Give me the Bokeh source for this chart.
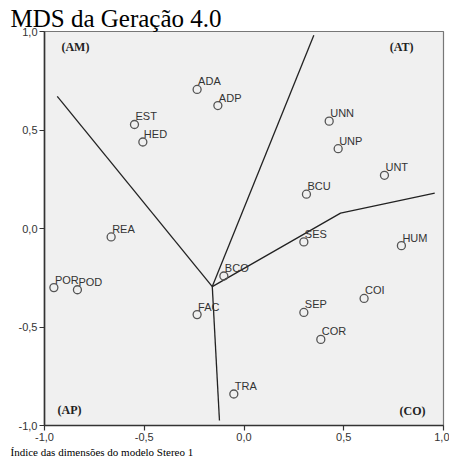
from bokeh.plotting import figure
from bokeh.models import ColumnDataSource, Label, Title, FixedTicker, CustomJSTickFormatter, Range1d
from bokeh.core.properties import value
from bokeh.embed import file_html
from bokeh.resources import INLINE

# ---- data ----
names = ["ADA", "ADP", "EST", "HED", "UNN", "UNP", "UNT", "BCU", "REA", "SES", "HUM",
         "BCO", "POR", "POD", "COI", "FAC", "SEP", "COR", "TRA"]
dim1 = [-0.235, -0.131, -0.549, -0.507, 0.427, 0.472, 0.704, 0.313, -0.666, 0.300, 0.789,
        -0.101, -0.953, -0.835, 0.602, -0.235, 0.300, 0.385, -0.051]
dim2 = [0.706, 0.624, 0.528, 0.439, 0.545, 0.405, 0.270, 0.174, -0.043, -0.068, -0.087,
        -0.241, -0.300, -0.311, -0.355, -0.437, -0.426, -0.563, -0.840]

# region boundary lines (from the centre outward)
line_xs = [[-0.159, -0.936], [-0.159, 0.350], [-0.159, 0.484, 0.956], [-0.159, -0.123]]
line_ys = [[-0.295, 0.671], [-0.295, 0.981], [-0.295, 0.078, 0.179], [-0.295, -0.975]]

ticks = [-1.0, -0.5, 0.0, 0.5, 1.0]
region_labels = ["(AM)", "(AT)", "(AP)", "(CO)"]
title_text = "MDS da Geração 4.0"
caption_text = "Índice das dimensões do modelo Stereo 1"

p = figure(width=449, height=457, x_range=Range1d(-1, 1), y_range=Range1d(-1, 1),
           min_border_left=44, min_border_right=6, min_border_top=31, min_border_bottom=30,
           output_backend="svg", toolbar_location=None, title=title_text)

p.title.text_font = "Liberation Serif"
p.title.text_font_size = "25px"
p.title.text_font_style = "normal"
p.title.text_color = "black"
p.title.align = "left"
p.title.offset = -34
p.title.standoff = 0

cap = Title(text=caption_text, align="left", offset=-34, standoff=0,
            text_font="Liberation Serif", text_font_size="11px",
            text_font_style="normal", text_color="black")
p.add_layout(cap, "below")

p.background_fill_color = "#f0f0f0"
p.border_fill_color = "white"
p.outline_line_color = "#777777"
p.outline_line_width = 1.2
p.grid.visible = False

fmt = CustomJSTickFormatter(code="return tick.toFixed(1).replace('.', ',');")
for ax in (p.xaxis, p.yaxis):
    ax.ticker = FixedTicker(ticks=ticks, minor_ticks=[])
    ax.formatter = fmt
    ax.axis_line_color = "#333333"
    ax.axis_line_width = 1.6
    ax.major_tick_line_color = "#333333"
    ax.major_tick_line_width = 1.2
    ax.major_tick_out = 5
    ax.major_tick_in = 0
    ax.minor_tick_line_color = None
    ax.major_label_text_font = "Liberation Sans"
    ax.major_label_text_font_size = "11px"
    ax.major_label_text_color = "#333333"
p.xaxis.major_label_standoff = 2
p.yaxis.major_label_standoff = 2

p.multi_line(xs=line_xs, ys=line_ys, line_color="#222222", line_width=1.3)

src = ColumnDataSource(dict(x=dim1, y=dim2, name=names))
p.scatter("x", "y", source=src, marker="circle", size=8, fill_color=None,
          line_color="#555555", line_width=1.3)
p.text("x", "y", text="name", source=src, x_offset=1, y_offset=-8,
       text_font=value("Liberation Sans"), text_font_size="11px", text_color="#333333",
       text_baseline="alphabetic", text_align="left")

# region labels
reg_pos = [(-0.915, 0.92), (0.73, 0.92), (-0.935, -0.92), (0.78, -0.925)]
for t, (x, y) in zip(region_labels, reg_pos):
    p.add_layout(Label(x=x, y=y, text=t, text_font="Liberation Serif", text_font_size="12px",
                       text_font_style="bold", text_color="#222222", text_baseline="middle",
                       text_align="left"))

open("out.html", "w").write(file_html(p, INLINE))
